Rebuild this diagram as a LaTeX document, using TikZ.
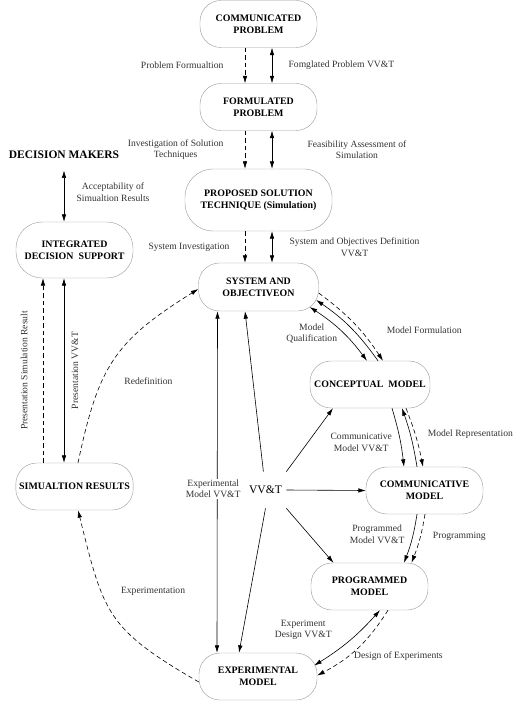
\documentclass[tikz,border=0pt]{standalone}
\usepackage{fontspec}
\setmainfont{Liberation Serif}
\usetikzlibrary{arrows.meta, positioning}

\begin{document}
\begin{tikzpicture}[x=1pt, y=1pt, line width=0.6pt, >={Latex[length=7.5pt,width=4.5pt]},
  stage/.style={draw=black!40, thin, rounded corners=21pt, align=center, minimum width=117pt, minimum height=47pt, font=\fontsize{9.9}{12}\selectfont\bfseries},
  lbl/.style={align=center, text=black!80, font=\fontsize{9.6}{11.5}\selectfont},
  proc/.style={->, dash pattern=on 4.5pt off 3pt}]
\useasboundingbox (0,0) rectangle (520,-708);

% stages of the life cycle
\node[stage] (comm) at (258.5,-24) {COMMUNICATED\\PROBLEM};
\node[stage] (form) at (258.5,-107) {FORMULATED\\PROBLEM};
\node[stage, minimum width=147pt, minimum height=62pt, rounded corners=28pt] (prop) at (258.5,-200) {PROPOSED SOLUTION\\TECHNIQUE (Simulation)};
\node[stage, minimum width=120pt, minimum height=48pt] (sys) at (258.5,-287) {SYSTEM AND\\OBJECTIVEON};
\node[stage, minimum width=120pt] (con) at (370,-384.5) {CONCEPTUAL\ \ MODEL};
\node[stage] (com) at (424.5,-490.5) {COMMUNICATIVE\\MODEL};
\node[stage] (pro) at (369.5,-586.5) {PROGRAMMED\\MODEL};
\node[stage, minimum width=118pt] (exp) at (258,-676.5) {EXPERIMENTAL\\MODEL};
\node[stage, minimum height=56pt, rounded corners=26pt] (ids) at (74.5,-250) {INTEGRATED\\DECISION\ \ SUPPORT};
\node[stage] (sim) at (74.5,-486.5) {SIMUALTION RESULTS};
\node[font=\fontsize{11.5}{13}\selectfont\bfseries] (dm) at (64,-155) {DECISION MAKERS};
\node[font=\fontsize{11.6}{13}\selectfont, minimum width=41pt, minimum height=36pt, inner sep=0pt] (vv) at (265.5,-490) {VV\&T};

% main column
\draw[proc] ([xshift=-13.5pt]comm.south) -- node[lbl, left=18pt]{Problem Formualtion} ([xshift=-13.5pt]form.north);
\draw[<->] ([xshift=13.5pt]comm.south) -- node[lbl, right=13pt]{Fomglated Problem VV\&T} ([xshift=13.5pt]form.north);
\draw[proc] ([xshift=-13.5pt]form.south) -- node[lbl, left=18pt]{Investigation of Solution\\Techniques} ([xshift=-13.5pt]prop.north);
\draw[<->] ([xshift=13.5pt]form.south) -- node[lbl, right=32pt]{Feasibility Assessment of\\Simulation} ([xshift=13.5pt]prop.north);
\draw[proc] ([xshift=-13.5pt]prop.south) -- node[lbl, left=12pt]{System Investigation} ([xshift=-13.5pt]sys.north);
\draw[<->] ([xshift=13.5pt]prop.south) -- node[lbl, right=14pt]{System and Objectives Definition\\VV\&T} ([xshift=13.5pt]sys.north);

% system to conceptual model
\draw[proc] ([yshift=-6pt]sys.east) to[bend left=10] node[lbl, pos=0.6, right=23pt]{Model Formulation} ([xshift=13pt]con.north);
\draw[<-] ([shift={(-2.5,-13)}]sys.east) to[bend left=10] ([xshift=8pt]con.north);
\draw[<->] ([shift={(-9,-20)}]sys.east) to[bend left=10] node[lbl, pos=0.55, left=3pt]{Model\\Qualification} ([xshift=-3pt]con.north);

% conceptual to communicative model
\draw[->] ([xshift=22pt]con.south) to[bend left=5] node[lbl, pos=0.6, left=5pt]{Communicative\\Model VV\&T} ([xshift=-20.5pt]com.north);
\draw[<-] ([xshift=32pt]con.south) to[bend left=5] ([xshift=-7.5pt]com.north);
\draw[proc] ([xshift=36pt]con.south) to[bend left=5] node[lbl, pos=0.45, right=9pt]{Model Representation} ([xshift=-1.5pt]com.north);

% communicative to programmed model
\draw[->] ([xshift=-7.5pt]com.south) to[bend left=6] node[lbl, pos=0.4, left=5pt]{Programmed\\Model VV\&T} ([xshift=34.5pt]pro.north);
\draw[proc] ([xshift=0.5pt]com.south) to[bend left=6] node[lbl, pos=0.45, right=9pt]{Programming} ([xshift=42pt]pro.north);

% programmed to experimental model
\draw[<->] ([xshift=10.5pt]pro.south) to[bend left=8] node[lbl, pos=0.3, left=26pt]{Experiment\\Design VV\&T} ([shift={(-3,11)}]exp.east);
\draw[proc] ([xshift=18.5pt]pro.south) to[bend left=15] node[lbl, pos=0.5, anchor=north west, xshift=-7pt]{Design of Experiments} ([yshift=1pt]exp.east);

% VV&T hub
\draw[->] (vv) -- ([xshift=-13.5pt]sys.south);
\draw[->] (vv.north east) -- ([xshift=-37pt]con.south);
\draw[->] (vv.east) -- (com.west);
\draw[->] (vv.south east) -- ([xshift=-36pt]pro.north);
\draw[->] (vv.south) -- ([xshift=-19pt]exp.north);
\draw[<->] ([xshift=-41pt]sys.south) -- node[lbl, pos=0.52, xshift=-4pt, fill=white, inner sep=1pt]{Experimental\\Model VV\&T} ([xshift=-41pt]exp.north);

% results and decision support
\draw[proc] ([yshift=-5.5pt]exp.west) to[out=150, in=-76, looseness=1.3] node[lbl, pos=0.65, right=16pt]{Experimentation} ([xshift=3.5pt]sim.south);
\draw[proc] ([xshift=3.5pt]sim.north) to[out=78, in=212, looseness=1.2] node[lbl, pos=0.36, right=19pt]{Redefinition} ([yshift=-2pt]sys.west);
\draw[proc] ([xshift=-31.5pt]sim.north) -- node[lbl, sloped, above=12pt]{Presentation Simulation Result} ([xshift=-31.5pt]ids.south);
\draw[<->] ([xshift=-10.5pt]sim.north) -- node[lbl, sloped, below=4pt]{Presentation VV\&T} ([xshift=-10.5pt]ids.south);
\draw[<->, shorten <=8pt] (dm.south) -- node[lbl, right=9pt]{Acceptability of\\Simualtion Results} (dm.south |- ids.north);
\end{tikzpicture}
\end{document}
